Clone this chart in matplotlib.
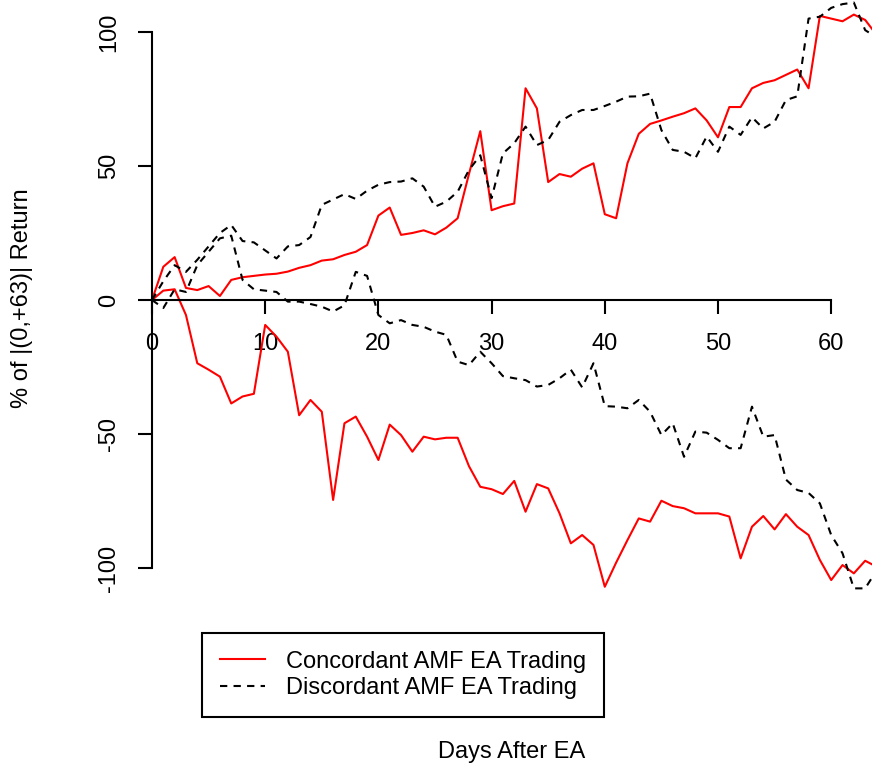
import matplotlib.pyplot as plt

plt.rcParams['font.family'] = ['Liberation Sans', 'DejaVu Sans']
plt.rcParams['axes.unicode_minus'] = False

giorni = list(range(65))

conc_pos = [0, 12.4, 16, 4.5, 3.7, 5.2, 1.5, 7.5, 8.5, 9, 9.5, 9.8, 10.6, 12, 13, 14.7,
            15.2, 16.8, 18, 20.5, 31.5, 34.5, 24.3, 25, 26, 24.5, 27, 30.5, 47, 63, 33.5,
            35, 36, 79, 71.5, 44, 47, 46, 49, 51, 32, 30.5, 51, 62, 65.7, 67, 68.4, 69.7,
            71.5, 67, 60.7, 72, 72, 79, 81, 82, 84, 86, 79, 106, 105, 104, 106.5, 104.5, 99]

conc_neg = [0, 3.5, 4, -5.6, -23.6, -26, -28.6, -38.6, -36, -35, -9.3, -13.7, -19.3, -43,
            -37.3, -41.7, -74.6, -46, -43.5, -51, -59.7, -46.5, -50.4, -56.6, -51, -52,
            -51.4, -51.4, -62, -69.7, -70.6, -72.4, -67.5, -79, -68.7, -70.3, -79.6, -90.8,
            -87.7, -91.4, -107, -98, -89.6, -81.5, -82.7, -74.9, -76.9, -77.7, -79.6, -79.6,
            -79.6, -80.8, -96.4, -84.6, -80.6, -85.6, -79.9, -84.6, -87.7, -97, -104.5,
            -98.9, -102, -97.3, -99.5]

disc_pos = [0, 7, 13, 10.5, 15, 20, 25, 28, 22, 21.5, 18.5, 15.5, 20, 20.5, 23.5, 35.5,
            37.5, 39.5, 37.7, 40.8, 43, 44, 44.2, 45.4, 42.3, 34.8, 36.7, 40.4, 48.5, 54,
            38, 54.7, 58.5, 64.7, 57.8, 59.7, 66.5, 69, 70.9, 70.9, 72.4, 74, 75.9, 76, 77,
            63.4, 56, 55.3, 52.9, 61, 55.3, 64.7, 61.6, 68.2, 64, 66.5, 74.6, 76, 105, 105.7,
            109, 110.4, 111, 100.7, 98]

disc_neg = [0, -3, 4, 3, 13, 18, 23, 24, 7.5, 4, 3.5, 3, -0.6, -0.6, -1.5, -2.5, -4.3, -2,
            10.5, 9, -5.6, -8.7, -7.5, -9.3, -10, -11.8, -13, -23, -24.3, -19.3, -23.6,
            -28.4, -29.2, -29.9, -32.3, -31.7, -29.2, -26, -32.6, -23.6, -39.6, -39.8, -40.4,
            -37.3, -41.7, -50.4, -46, -58.5, -49.1, -49.5, -52.2, -55.3, -55.3, -39.8, -51,
            -50.4, -67, -70.9, -72, -75.9, -87.7, -94.5, -107.6, -107.6, -101]

xtick = [0, 10, 20, 30, 40, 50, 60]
ytick = [-100, -50, 0, 50, 100]

fs = 17

fig = plt.figure(figsize=(8.72, 7.66), dpi=100)
ax = fig.add_axes([152/872, 1-600/766, 720/872, 600/766])

l1, = ax.plot(giorni, conc_pos, color='red', lw=1.5)
ax.plot(giorni, conc_neg, color='red', lw=1.5)
l2, = ax.plot(giorni, disc_pos, color='black', lw=1.5, linestyle=(0, (3.5, 3)))
ax.plot(giorni, disc_neg, color='black', lw=1.5, linestyle=(0, (3.5, 3)))

ax.set_xlim(0, 720/11.32)
ax.set_ylim(-300/2.68, 300/2.68)

# assi stile R: passano per lo zero e finiscono sull'ultima tacca
for s in ['top', 'right']:
    ax.spines[s].set_visible(False)
ax.spines['left'].set_position(('data', 0))
ax.spines['bottom'].set_position(('data', 0))
ax.spines['left'].set_bounds(-100, 100)
ax.spines['bottom'].set_bounds(0, 60)
ax.spines['left'].set_linewidth(1.5)
ax.spines['bottom'].set_linewidth(1.5)
ax.set_xticks(xtick)
ax.set_yticks(ytick)
ax.tick_params(axis='both', length=10, width=1.5, labelsize=fs)
ax.tick_params(axis='x', pad=14)
ax.tick_params(axis='y', pad=13)
plt.setp(ax.get_yticklabels(), rotation=90, va='center')

fig.text(22/872, 1-298/766, "% of |(0,+63)| Return", rotation=90,
         ha='center', va='center', fontsize=fs)
fig.text(512/872, 1-752/766, "Days After EA", ha='center', va='center', fontsize=fs)

leg = fig.legend([l1, l2], ["Concordant AMF EA Trading", "Discordant AMF EA Trading"],
                 loc='upper left', bbox_to_anchor=(202/872, 1-633/766),
                 fontsize=fs, fancybox=False, edgecolor='black', framealpha=1,
                 handlelength=1.9, handletextpad=0.9, labelspacing=0.2,
                 borderpad=0.75, borderaxespad=0)
leg.get_frame().set_linewidth(1.5)

plt.savefig("out.png", dpi=100)
plt.close()
